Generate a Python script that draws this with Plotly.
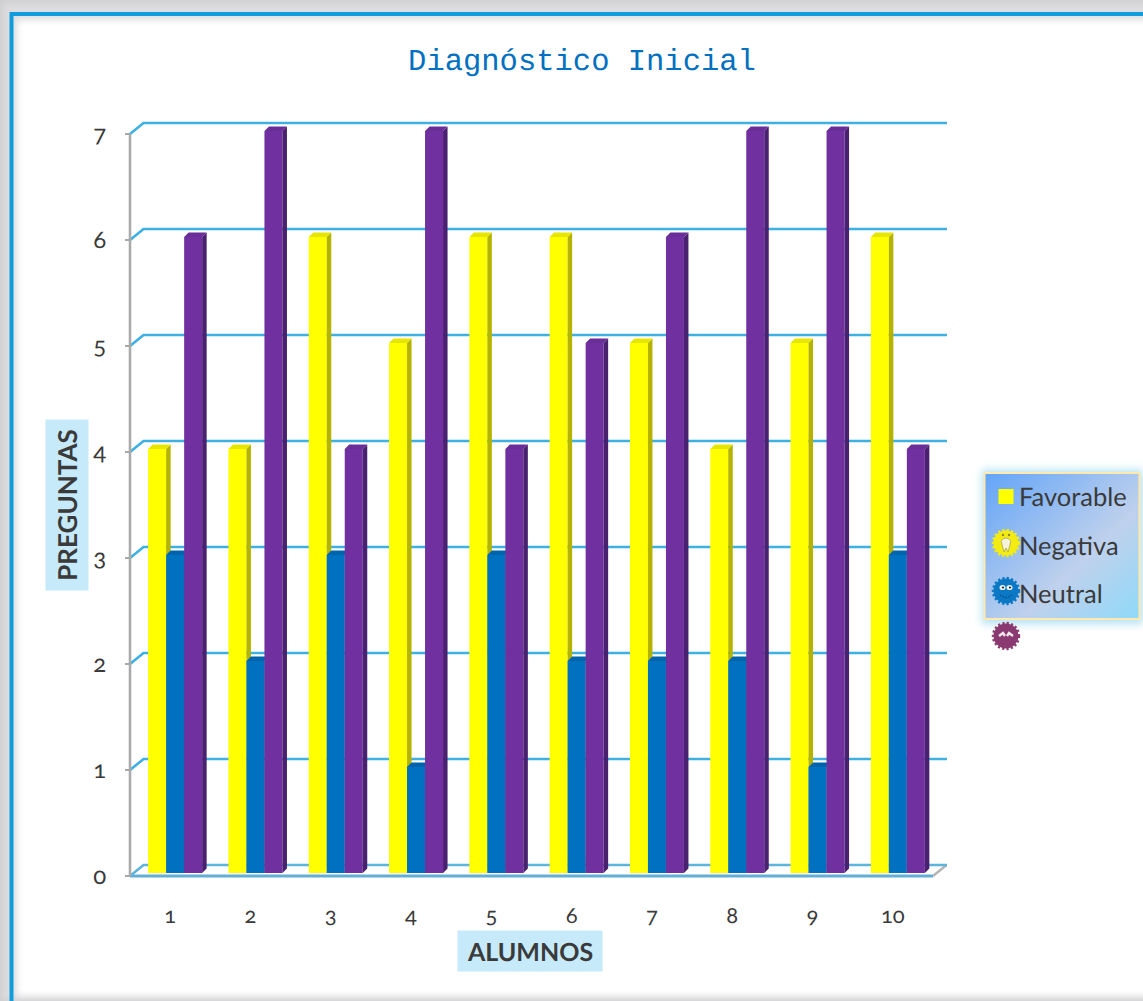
import base64
import plotly.graph_objects as go

# ---------- data ----------
ALUMNOS = [1, 2, 3, 4, 5, 6, 7, 8, 9, 10]
FAVORABLE = [4, 4, 6, 5, 6, 6, 5, 4, 5, 6]
NEUTRAL = [3, 2, 3, 1, 3, 2, 2, 2, 1, 3]
NEGATIVA = [6, 7, 4, 7, 4, 5, 6, 7, 7, 4]
Y_TICKS = [0, 1, 2, 3, 4, 5, 6, 7]
LEGEND_NAMES = ["Favorable", "Negativa", "Neutral"]

# ---------- geometry (pixels of a 1143x1001 page) ----------
W, H = 1143, 1001
X0_PX, X1_PX, XMAX_PX = 130, 933, 947
Y0_PX, Y7_PX, YTOP_PX = 876, 134, 120
PAD = 8  # room so that the heavy axis lines are not clipped
UX = (X1_PX - X0_PX) / 10
UY = (Y0_PX - Y7_PX) / 7
px = lambda n: n / UX
py = lambda n: n / UY
XLO = 0.5
XHI = XLO + (XMAX_PX - X0_PX) / UX
YHI = (Y0_PX - YTOP_PX) / UY
X_RANGE = [XLO - px(PAD), XHI]
Y_RANGE = [-py(PAD), YHI]
X_DOMAIN = [(X0_PX - PAD) / W, XMAX_PX / W]
Y_DOMAIN = [(H - Y0_PX - PAD) / H, (H - YTOP_PX) / H]
BACK_X, BACK_Y = px(13.5), py(11)
BAR_W = px(18)
BAR_BASE = py(3)
DEPTH_X, DEPTH_Y = px(4.5), py(4.5)
END = XLO + 10


def bar_series(vals, offs, front, side, top, name, n):
    """Front face as a bar, side and top faces as polygons, on overlay axes n."""
    xa, ya = f"x{n}", f"y{n}"
    out = [go.Bar(x=ALUMNOS, y=vals, base=BAR_BASE, width=BAR_W, offset=offs,
                  marker=dict(color=front, line=dict(width=0)), name=name,
                  showlegend=False, xaxis=xa, yaxis=ya)]
    sx, sy, tx, ty = [], [], [], []
    for c, v in zip(ALUMNOS, vals):
        r = c + offs + BAR_W
        l = c + offs
        t = v + BAR_BASE
        sx += [r, r + DEPTH_X, r + DEPTH_X, r, r, None]
        sy += [BAR_BASE, BAR_BASE + DEPTH_Y, t + DEPTH_Y, t, BAR_BASE, None]
        tx += [l, l + DEPTH_X, r + DEPTH_X, r, l, None]
        ty += [t, t + DEPTH_Y, t + DEPTH_Y, t, t, None]
    for qx, qy, col in ((sx, sy, side), (tx, ty, top)):
        out.append(go.Scatter(x=qx, y=qy, mode="lines", fill="toself", fillcolor=col,
                              line=dict(width=0, color=col), hoverinfo="skip",
                              showlegend=False, xaxis=xa, yaxis=ya))
    return out


fig = go.Figure()

# gridlines, floor and walls
gx, gy = [], []
for t in Y_TICKS[1:]:
    gx += [XLO, XLO + BACK_X, XHI, None]
    gy += [t, t + BACK_Y, t + BACK_Y, None]
fig.add_trace(go.Scatter(x=gx, y=gy, mode="lines", line=dict(color="#3FB0E2", width=2.6),
                         cliponaxis=False, hoverinfo="skip", showlegend=False))
fig.add_trace(go.Scatter(x=[END, END + BACK_X], y=[0, BACK_Y], mode="lines",
                         line=dict(color="#B5B5B5", width=2.5), cliponaxis=False,
                         hoverinfo="skip", showlegend=False))
fig.add_trace(go.Scatter(x=[XLO, XLO + BACK_X, XHI], y=[0, BACK_Y, BACK_Y], mode="lines",
                         line=dict(color="#5DB4DC", width=2.6), cliponaxis=False,
                         hoverinfo="skip", showlegend=False))
fig.add_trace(go.Scatter(x=[XLO, END], y=[0, 0], mode="lines",
                         line=dict(color="#62AFD6", width=3), cliponaxis=False,
                         hoverinfo="skip", showlegend=False))
fig.add_trace(go.Scatter(x=[XLO, XLO], y=[0, 7], mode="lines",
                         line=dict(color="#ABABAB", width=2.6), cliponaxis=False,
                         hoverinfo="skip", showlegend=False))

# bars, each series in its own overlay so that later series cover earlier ones
for tr in bar_series(FAVORABLE, px(-22), "#FFFF00", "#B4B400", "#E6E600", "Favorable", 2):
    fig.add_trace(tr)
for tr in bar_series(NEUTRAL, px(-4), "#0070C0", "#004F88", "#0064AC", "Azul", 3):
    fig.add_trace(tr)
for tr in bar_series(NEGATIVA, px(14), "#7030A0", "#4A2070", "#6A2E98", "Morado", 4):
    fig.add_trace(tr)

# legend rows; their pictograms sit in the background picture
for nm in LEGEND_NAMES:
    fig.add_trace(go.Scatter(x=[None], y=[None], mode="markers", name=nm, legendgroup=nm,
                             marker=dict(color="rgba(0,0,0,0)", size=12), showlegend=True))


def face(cx, cy, col, extra):
    return (f'<g transform="translate({cx},{cy})">'
            f'<circle r="12.5" fill="{col}"/>'
            f'<circle r="13" fill="none" stroke="{col}" stroke-width="2.4" stroke-dasharray="2.2 2.2"/>'
            f'{extra}</g>')


EYES = ('<ellipse cx="-3.5" cy="-3.5" rx="3" ry="2.6" fill="#EAF2F8"/>'
        '<ellipse cx="3.5" cy="-3.5" rx="3" ry="2.6" fill="#EAF2F8"/>'
        '<circle cx="-3" cy="-3.5" r="1.1" fill="#223"/><circle cx="4" cy="-3.5" r="1.1" fill="#223"/>')
GHOST = ('<path d="M-5,-2 Q0,-8 5,-2 L2,9 L0,5 L-2,9 Z" fill="#F4F4D8" stroke="#A9A65A" stroke-width=".8"/>'
         '<circle cx="-3" cy="-8" r="1.2" fill="#8A8440"/><circle cx="3" cy="-8" r="1.2" fill="#8A8440"/>')
MOUTH = '<path d="M-6,4 Q0,9 6,4" fill="none" stroke="#0B4F86" stroke-width="1.4" stroke-dasharray="1.5 1.5"/>'
P_EYES = ('<path d="M-7,0 L-3,-3 L-1,0 M1,0 L3,-3 L7,0" fill="none" stroke="#F3E8EE" stroke-width="2.4"/>')

svg = f'''<svg xmlns="http://www.w3.org/2000/svg" width="{W}" height="{H}" viewBox="0 0 {W} {H}">
<defs>
<filter id="b1" x="-10%" y="-10%" width="120%" height="120%"><feGaussianBlur stdDeviation="3"/></filter>
<filter id="b2" x="-20%" y="-20%" width="140%" height="140%"><feGaussianBlur stdDeviation="4"/></filter>
<linearGradient id="lg" x1="0" y1="0" x2="1" y2="1">
<stop offset="0" stop-color="#62A4F8"/><stop offset=".62" stop-color="#BFD1EC"/><stop offset="1" stop-color="#8FD9FA"/>
</linearGradient>
</defs>
<rect width="{W}" height="{H}" fill="#CFCFD2"/>
<rect x="3" y="3" width="{W+40}" height="{H-4}" fill="#DDDDDF" filter="url(#b1)"/>
<rect x="17" y="20" width="{W+40}" height="{H-25}" fill="#FFFFFF" filter="url(#b1)"/>
<path d="M11.5,{H+5} V14 H{W+5}" fill="none" stroke="#0F9DDE" stroke-width="4"/>
<rect x="982" y="470" width="161" height="154" fill="#A5DCEF" opacity=".85" filter="url(#b2)"/>
<rect x="984.5" y="473" width="155" height="146" fill="url(#lg)" stroke="#FFE9AE" stroke-width="2"/>
<rect x="998.5" y="489" width="15" height="15" fill="#FFFF00"/>
{face(1006, 543, "#F4EC10", GHOST)}
{face(1006, 591, "#0A78C4", EYES + MOUTH)}
{face(1006, 636, "#8A3A70", P_EYES)}
</svg>'''
uri = "data:image/svg+xml;base64," + base64.b64encode(svg.encode()).decode()

TXT = "#3A3A3A"
fig.update_layout(
    width=W, height=H, autosize=False,
    margin=dict(l=0, r=0, t=0, b=0, pad=0, autoexpand=False),
    paper_bgcolor="white", plot_bgcolor="rgba(0,0,0,0)",
    barmode="overlay",
    font=dict(family="Lato", color=TXT),
    images=[dict(source=uri, xref="paper", yref="paper", x=0, y=1, sizex=1, sizey=1,
                 xanchor="left", yanchor="top", sizing="stretch", layer="below")],
    xaxis=dict(domain=X_DOMAIN, range=X_RANGE, anchor="free", position=(H - Y0_PX) / H,
               tickmode="array", tickvals=ALUMNOS, ticktext=[str(a) for a in ALUMNOS],
               showgrid=False, zeroline=False, showline=False, ticks="outside", ticklen=20,
               tickcolor="rgba(0,0,0,0)", tickfont=dict(family="Lato", size=22, color=TXT)),
    yaxis=dict(domain=Y_DOMAIN, range=Y_RANGE, anchor="free", position=X0_PX / W,
               tickmode="array", tickvals=Y_TICKS, showgrid=False, zeroline=False,
               showline=False, ticks="outside", ticklen=5, tickwidth=2, tickcolor="#A8A8A8",
               ticklabelstandoff=14, tickfont=dict(family="Lato", size=24, color=TXT)),
    title=dict(text="Diagnóstico Inicial", x=582 / W, xanchor="center", y=1 - 59 / H,
               yanchor="middle", font=dict(family="Liberation Mono", size=30.5, color="#0070C0")),
    legend=dict(x=979 / W, y=1 - 473 / H, xanchor="left", yanchor="top",
                bgcolor="rgba(0,0,0,0)", borderwidth=0, tracegroupgap=12.5,
                traceorder="grouped", font=dict(family="Lato", size=25.5, color=TXT),
                itemclick=False, itemdoubleclick=False),
    annotations=[
        dict(text="<b>ALUMNOS</b>", xref="paper", yref="paper", x=530 / W, y=1 - 951 / H,
             xanchor="center", yanchor="middle", showarrow=False, bgcolor="#C6EAFA",
             width=142, height=38, font=dict(family="Lato", size=25, color=TXT)),
        dict(text="<b>PREGUNTAS</b>", xref="paper", yref="paper", x=67 / W, y=1 - 505 / H,
             xanchor="center", yanchor="middle", showarrow=False, bgcolor="#C6EAFA", textangle=-90,
             width=168, height=40, font=dict(family="Lato", size=26, color=TXT)),
    ],
)
for n in (2, 3, 4):
    fig.update_layout({
        f"xaxis{n}": dict(domain=X_DOMAIN, range=X_RANGE, overlaying="x",
                          visible=False, anchor=f"y{n}"),
        f"yaxis{n}": dict(domain=Y_DOMAIN, range=Y_RANGE, overlaying="y",
                          visible=False, anchor=f"x{n}"),
    })

POST = """
document.documentElement.style.margin='0';
document.body.style.margin='0';
document.body.style.overflow='hidden';
var s=document.createElement('style');
s.textContent='svg text{text-rendering:geometricPrecision;font-variant-numeric:oldstyle-nums !important;font-feature-settings:"onum" 1 !important;}';
document.head.appendChild(s);
"""
fig.write_html("out.html", config=dict(displayModeBar=False, responsive=False),
               default_width=f"{W}px", default_height=f"{H}px", post_script=POST)
